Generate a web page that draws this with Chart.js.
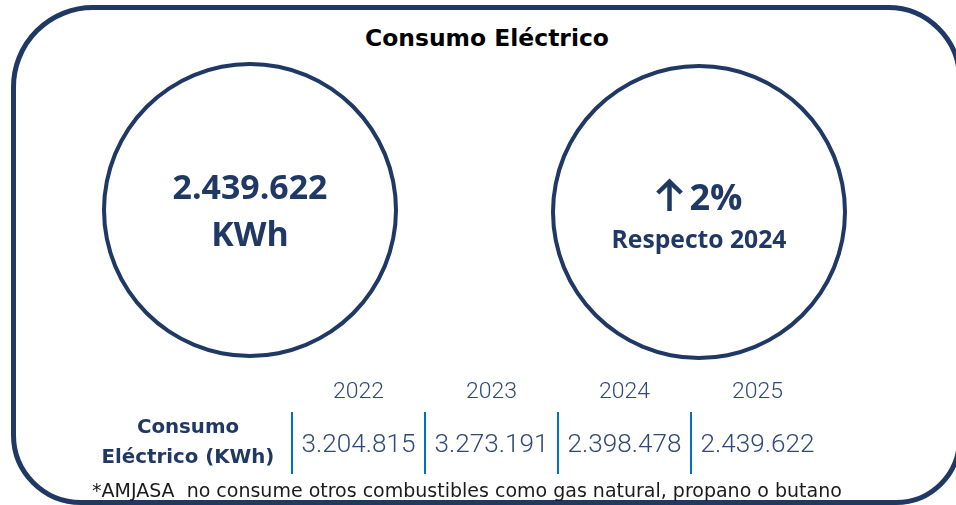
<!DOCTYPE html>
<html>
<head>
<meta charset="utf-8">
<script src="https://cdn.jsdelivr.net/npm/chart.js@4.4.1/dist/chart.umd.min.js"></script>
<style>
  html, body { margin: 0; padding: 0; width: 956px; height: 505px; overflow: hidden; background: #ffffff; }
  #frame { position: absolute; left: 11px; top: 5px; width: 951px; height: 500px; box-sizing: border-box;
           border: 5px solid #1f3864; border-radius: 82px 74px 66px 70px; }
  .txt { position: absolute; white-space: pre; line-height: 1; font-family: "DejaVu Sans", sans-serif; }
  #title { font-weight: bold; color: #000000; }
  #foot { color: #1a1a1a; }
  .ring { position: absolute; width: 296px; height: 296px; }
  #tableBox { position: absolute; left: 0; top: 0; width: 956px; height: 505px; }
</style>
</head>
<body>
<div id="frame"></div>
<div id="title" class="txt"></div>
<div class="ring" id="ringL" style="left:102px; top:62px;"><canvas id="cL" width="296" height="296"></canvas></div>
<div class="ring" id="ringR" style="left:551px; top:64px;"><canvas id="cR" width="296" height="296"></canvas></div>
<div id="tableBox"><canvas id="tbl" width="956" height="505"></canvas></div>
<div id="foot" class="txt"></div>
<script>
// ---- data ----
const years = ['2022', '2023', '2024', '2025'];
const consumo = [3204815, 3273191, 2398478, 2439622];
const rowLabel = ['Consumo', 'Eléctrico (KWh)'];
const unit = 'KWh';
const titleText = 'Consumo Eléctrico';
const compareLabel = 'Respecto 2024';
const footnote = '*AMJASA  no consume otros combustibles como gas natural, propano o butano';

// ---- styling ----
const navy = '#1f3864';
const textNavy = '#203864';
const cellBlue = '#2e4878';
const sepBlue = '#0070c0';

const fmt = n => String(n).replace(/\B(?=(\d{3})+(?!\d))/g, '.');
const latest = consumo[consumo.length - 1];
const prev = consumo[consumo.length - 2];
const changePct = Math.round((latest - prev) / prev * 100);

const mctx = document.createElement('canvas').getContext('2d');
function fitSize(text, weight, family, target) {
  mctx.font = weight + ' 100px ' + family;
  return 100 * target / mctx.measureText(text).width;
}

// ---- HTML texts (title / footnote) ----
function placeText(el, text, weight, target, centerX, leftX, baseline) {
  const s = fitSize(text, weight, '"DejaVu Sans"', target);
  el.textContent = text;
  el.style.fontSize = s + 'px';
  el.style.top = (baseline - 0.846 * s) + 'px';
  if (centerX !== null) { el.style.left = (centerX - target / 2) + 'px'; }
  else { el.style.left = leftX + 'px'; }
}
placeText(document.getElementById('title'), titleText, 'bold', 244, 487, null, 47);
placeText(document.getElementById('foot'), footnote, 'normal', 750, null, 92, 497);

// ---- circles ----
const OS = '"Open Sans", sans-serif';
const bigSize = fitSize(fmt(latest), 'bold', OS, 155);
const pctText = changePct + '%';
const pctSize = fitSize(pctText, 'bold', OS, 53);
const cmpSize = fitSize(compareLabel, 'bold', OS, 175);

function drawArrow(c, x, base, w, h, lw) {
  // upward arrow glyph, left edge x, bottom at base
  c.save();
  c.strokeStyle = textNavy;
  c.lineWidth = lw;
  c.lineCap = 'butt';
  c.lineJoin = 'miter';
  const cx = x + w / 2;
  c.beginPath();
  c.moveTo(cx, base);
  c.lineTo(cx, base - h + lw * 0.6);
  c.stroke();
  c.beginPath();
  c.moveTo(x + lw * 0.5, base - h + w / 2);
  c.lineTo(cx, base - h + lw * 0.6);
  c.lineTo(x + w - lw * 0.5, base - h + w / 2);
  c.stroke();
  c.restore();
}

function ringChart(id, value, lines, arrow) {
  return new Chart(document.getElementById(id), {
    type: 'doughnut',
    data: { labels: [''], datasets: [{ data: [value], backgroundColor: [navy], borderWidth: 0, hoverOffset: 0 }] },
    options: {
      responsive: false, animation: false, cutout: 144,
      layout: { padding: 0 },
      plugins: { legend: { display: false }, tooltip: { enabled: false }, title: { display: false } }
    },
    plugins: [{
      id: 'centerText',
      afterDraw(chart) {
        const arc = chart.getDatasetMeta(0).data[0];
        const c = chart.ctx;
        c.save();
        c.fillStyle = textNavy;
        c.textBaseline = 'alphabetic';
        lines.forEach((l, i) => {
          c.font = 'bold ' + l.size + 'px ' + OS;
          if (arrow && i === 0) {
            const tw = c.measureText(l.text).width;
            const aw = 28, gap = 6;
            const left = arc.x - (aw + gap + tw) / 2;
            drawArrow(c, left, arc.y + l.dy + 1, aw, 32, 4.5);
            c.textAlign = 'left';
            c.fillText(l.text, left + aw + gap, arc.y + l.dy);
          } else {
            c.textAlign = 'center';
            c.fillText(l.text, arc.x, arc.y + l.dy);
          }
        });
        c.restore();
      }
    }]
  });
}
ringChart('cL', latest, [
  { text: fmt(latest), size: bigSize, dy: -11 },
  { text: unit, size: bigSize, dy: 36 }
], false);
ringChart('cR', changePct, [
  { text: pctText, size: pctSize, dy: -2 },
  { text: compareLabel, size: cmpSize, dy: 36 }
], true);

// ---- table ----
const RB = 'Roboto, sans-serif';
const yearSize = fitSize(years[0], '300', RB, 51);
const valueSize = fitSize(fmt(consumo[2]), '300', RB, 114);
mctx.font = 'bold 100px "DejaVu Sans"';
const labelSize = 100 * 173 / Math.max(...rowLabel.map(t => mctx.measureText(t).width));
mctx.font = 'bold ' + labelSize + 'px "DejaVu Sans"';
const labelW = Math.max(...rowLabel.map(t => mctx.measureText(t).width));
const labelPad = 104 - labelW / 2;

const cellValues = {
  id: 'cellValues',
  afterDatasetsDraw(chart) {
    const { ctx, chartArea, scales: { x } } = chart;
    const mid = (chartArea.top + chartArea.bottom) / 2;
    ctx.save();
    ctx.fillStyle = cellBlue;
    ctx.font = '300 ' + valueSize + 'px ' + RB;
    ctx.textAlign = 'center';
    ctx.textBaseline = 'alphabetic';
    consumo.forEach((v, i) => ctx.fillText(fmt(v), x.getPixelForValue(i), mid + 9));
    ctx.restore();
  }
};

new Chart(document.getElementById('tbl'), {
  type: 'bar',
  data: { labels: years, datasets: [{ data: consumo, backgroundColor: 'rgba(0,0,0,0)', borderWidth: 0 }] },
  options: {
    responsive: false, animation: false,
    layout: { padding: { left: 0, right: 132, top: 372, bottom: 31 } },
    plugins: { legend: { display: false }, tooltip: { enabled: false }, title: { display: false } },
    scales: {
      x: {
        position: 'top', offset: true,
        grid: { offset: true, drawTicks: false, lineWidth: 2,
                color: ctx => ctx.type === 'tick' ? sepBlue : 'rgba(0,0,0,0)' },
        border: { display: false },
        ticks: { color: cellBlue, font: { family: RB, weight: '300', size: yearSize, lineHeight: 1.2 },
                 padding: 20 - yearSize * 0.6, maxRotation: 0, autoSkip: false },
        afterFit: s => { s.height = 40; s.paddingLeft = 0; s.paddingRight = 0; }
      },
      y: { display: false, beginAtZero: true },
      yRow: {
        type: 'category', labels: [rowLabel], position: 'left', offset: true,
        grid: { display: false, drawTicks: false }, border: { display: false },
        ticks: { color: textNavy, font: { family: '"DejaVu Sans"', weight: 'bold', size: labelSize, lineHeight: 30 / labelSize },
                 crossAlign: 'center', padding: labelPad },
        afterFit: s => { s.width = 292; s.paddingTop = 0; s.paddingBottom = 0; }
      }
    }
  },
  plugins: [cellValues]
});
</script>
</body>
</html>
